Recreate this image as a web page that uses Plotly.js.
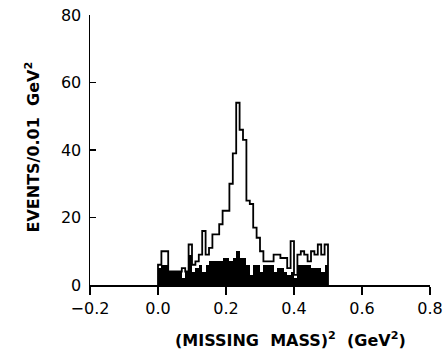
<!DOCTYPE html>
<html>
<head>
<meta charset="utf-8">
<script src="https://cdn.plot.ly/plotly-3.0.1.min.js"></script>
<style>html,body{margin:0;padding:0;background:#fff;}#plot{width:446px;height:360px;}</style>
</head>
<body>
<div id="plot"></div>
<script>
// Histogram bins: (missing mass)^2 from 0.00 to 0.50 GeV^2, width 0.01
const binStart = 0.0;
const binWidth = 0.01;
// All events (open histogram)
const allEvents = [6,10,10,4,4,4,4,5,4,12,
                   6,7,9,16,9,11,15,15,18,22,
                   22,30,39,54,46,43,25,24,17,14,
                   10,7,7,7,9,9,8,8,5,13,
                   3,9,10,9,7,10,9,12,9,12];
// Selected events (filled histogram)
const selEvents = [5,6,6,4,4,4,4,2,4,9,
                   4,5,6,4,6,7,7,7,7,8,
                   8,7,8,10,8,8,6,3,6,6,
                   4,6,6,6,4,5,5,4,3,4,
                   2,6,6,6,6,5,5,5,4,6];
const xTickVals = [-0.2, 0.0, 0.2, 0.4, 0.6, 0.8];
const xTickText = ['\u22120.2', '0.0', '0.2', '0.4', '0.6', '0.8'];
const yTickVals = [0, 20, 40, 60, 80];

const centers = selEvents.map((_, i) => binStart + binWidth * (i + 0.5));
// step outline built from the bin edges
const stepX = [binStart], stepY = [0];
allEvents.forEach((v, i) => { stepX.push(binStart + binWidth * i); stepY.push(v); });
stepX.push(binStart + binWidth * allEvents.length); stepY.push(allEvents[allEvents.length - 1]);
stepX.push(binStart + binWidth * allEvents.length); stepY.push(0);

const traces = [
  {type: 'bar', x: centers, y: selEvents, width: binWidth,
   marker: {color: '#000', line: {width: 0}}, hoverinfo: 'skip'},
  {type: 'scatter', mode: 'lines', x: stepX, y: stepY,
   line: {color: '#000', width: 1.8, shape: 'hv'}, hoverinfo: 'skip'}
];

const tickFont = {family: 'DejaVu Sans', size: 16, color: '#000'};
const layout = {
  width: 446, height: 360,
  margin: {l: 90, r: 16, t: 15, b: 75},
  paper_bgcolor: '#fff', plot_bgcolor: '#fff',
  showlegend: false, bargap: 0,
  xaxis: {type: 'linear', range: [-0.2, 0.8], tickvals: xTickVals, ticktext: xTickText,
          ticks: 'outside', ticklen: 8, tickwidth: 1.5, tickcolor: '#000', tickfont: tickFont,
          showgrid: false, zeroline: false, showline: true,
          linecolor: '#000', linewidth: 1.5},
  yaxis: {type: 'linear', range: [0, 80], tickvals: yTickVals, ticks: 'inside', ticklen: 6,
          tickwidth: 1.5, tickcolor: '#000', showgrid: false, zeroline: false,
          showline: true, linecolor: '#000', linewidth: 1.5, tickfont: tickFont,
          ticklabelstandoff: 4},
  annotations: [
    {xref: 'paper', yref: 'paper', x: -0.17, y: 0.51, textangle: -90,
     xanchor: 'center', yanchor: 'middle', showarrow: false,
     text: 'EVENTS/0.01  GeV<sup>2</sup>',
     font: {family: 'DejaVu Sans', size: 16, color: '#000', weight: 'bold'}},
    {xref: 'paper', yref: 'paper', x: 0.59, y: -0.2, xanchor: 'center', yanchor: 'middle',
     showarrow: false, text: '(MISSING  MASS)<sup>2</sup>  (GeV<sup>2</sup>)',
     font: {family: 'DejaVu Sans', size: 16, color: '#000', weight: 'bold'}}
  ]
};
Plotly.newPlot('plot', traces, layout, {staticPlot: true, displayModeBar: false});
</script>
</body>
</html>
